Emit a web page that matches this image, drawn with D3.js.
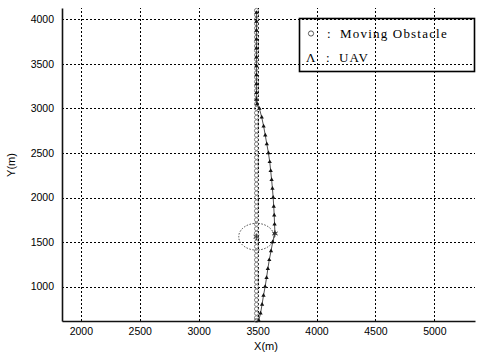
<!DOCTYPE html>
<html>
<head>
<meta charset="utf-8">
<script src="https://cdn.jsdelivr.net/npm/d3@7/dist/d3.min.js"></script>
<style>
  html, body { margin: 0; padding: 0; background: #fff; }
  svg { display: block; }
</style>
</head>
<body>
<svg id="chart" width="480" height="357"></svg>
<script>
// Axis ticks
const xTicks = [2000, 2500, 3000, 3500, 4000, 4500, 5000];
const yTicks = [1000, 1500, 2000, 2500, 3000, 3500, 4000];

// Moving obstacle track (constant X, sampled every 50 m)
const obstacleX = 3490;
const obstacleY = [4100, 4050, 4000, 3950, 3900, 3850, 3800, 3750, 3700, 3650,
  3600, 3550, 3500, 3450, 3400, 3350, 3300, 3250, 3200, 3150,
  3100, 3050, 3000, 2950, 2900, 2850, 2800, 2750, 2700, 2650,
  2600, 2550, 2500, 2450, 2400, 2350, 2300, 2250, 2200, 2150,
  2100, 2050, 2000, 1950, 1900, 1850, 1800, 1750, 1700, 1650,
  1600, 1550, 1500, 1450, 1400, 1350, 1300, 1250, 1200, 1150,
  1100, 1050, 1000, 950, 900, 850, 800, 750, 700, 650, 620];

// UAV track
const uavX = [3490, 3490, 3490, 3490, 3490, 3490, 3490, 3490, 3490, 3490, 3490, 3495,
  3515, 3535, 3551, 3565, 3578, 3592, 3603, 3611, 3619, 3626, 3632, 3637, 3641, 3644, 3647,
  3628, 3614, 3599, 3587, 3576, 3564, 3550, 3538, 3525, 3510];
const uavY = [4075, 3975, 3875, 3775, 3675, 3575, 3475, 3375, 3275, 3175, 3100, 3050,
  3000, 2900, 2800, 2700, 2600, 2500, 2400, 2300, 2200, 2100, 2000, 1900, 1800, 1700, 1600,
  1500, 1400, 1300, 1200, 1100, 1000, 900, 800, 700, 620];

// Safety circle around the obstacle at the moment of closest approach
const zoneCenter = [3490, 1560];
const zoneRadius = 150;
const encounterMarks = [[3490, 1560], [3647, 1596]];

const svg = d3.select("#chart");
const plot = { left: 62, right: 475, top: 8, bottom: 321 };

const x = d3.scaleLinear().domain([1840, 5345]).range([plot.left, plot.right]);
const y = d3.scaleLinear().domain([614, 4127]).range([plot.bottom, plot.top]);

// Dotted grid
const grid = svg.append("g").attr("stroke", "#000").attr("stroke-width", 1)
  .attr("stroke-dasharray", "2,2").attr("shape-rendering", "crispEdges");
grid.selectAll("line.v").data(xTicks).join("line")
  .attr("x1", d => Math.round(x(d)) + 0.5).attr("x2", d => Math.round(x(d)) + 0.5)
  .attr("y1", plot.bottom).attr("y2", plot.top);
grid.selectAll("line.h").data(yTicks).join("line")
  .attr("y1", d => Math.round(y(d)) + 0.5).attr("y2", d => Math.round(y(d)) + 0.5)
  .attr("x1", plot.left).attr("x2", plot.right);

// Axes
const xAxis = svg.append("g").attr("transform", `translate(0,${plot.bottom})`)
  .call(d3.axisBottom(x).tickValues(xTicks).tickSize(0).tickPadding(7).tickFormat(d3.format("d")));
const yAxis = svg.append("g").attr("transform", `translate(${plot.left},0)`)
  .call(d3.axisLeft(y).tickValues(yTicks).tickSize(0).tickPadding(8).tickFormat(d3.format("d")));
[xAxis, yAxis].forEach(a => {
  a.select(".domain").attr("stroke", "#111").attr("stroke-width", 1.6);
  a.selectAll("text").attr("font-family", "'Liberation Sans', Arial, sans-serif")
    .attr("font-size", 10.5).attr("fill", "#000");
});

// Axis titles
svg.append("text").attr("x", 266).attr("y", 350).attr("text-anchor", "middle")
  .attr("font-family", "'Liberation Sans', Arial, sans-serif").attr("font-size", 11)
  .text("X(m)");
svg.append("text").attr("transform", "translate(15,165) rotate(-90)").attr("text-anchor", "middle")
  .attr("font-family", "'Liberation Sans', Arial, sans-serif").attr("font-size", 11)
  .text("Y(m)");

// Safety circle
svg.append("ellipse")
  .attr("cx", x(zoneCenter[0])).attr("cy", y(zoneCenter[1]))
  .attr("rx", x(zoneCenter[0] + zoneRadius) - x(zoneCenter[0]))
  .attr("ry", y(zoneCenter[1]) - y(zoneCenter[1] + zoneRadius))
  .attr("fill", "none").attr("stroke", "#333").attr("stroke-width", 0.9)
  .attr("stroke-dasharray", "1.5,1.5");

// Obstacle track
svg.append("g").selectAll("circle").data(obstacleY).join("circle")
  .attr("cx", x(obstacleX)).attr("cy", d => y(d)).attr("r", 2)
  .attr("fill", "none").attr("stroke", "#666").attr("stroke-width", 0.8);

// UAV track
const uavPts = uavX.map((d, i) => [d, uavY[i]]);
svg.append("path").datum(uavPts)
  .attr("d", d3.line().x(d => x(d[0])).y(d => y(d[1])))
  .attr("fill", "none").attr("stroke", "#222").attr("stroke-width", 0.8);
svg.append("g").selectAll("path").data(uavPts).join("path")
  .attr("transform", d => `translate(${x(d[0])},${y(d[1])})`)
  .attr("d", d3.symbol().type(d3.symbolTriangle).size(8))
  .attr("fill", "#111");

// Encounter markers
svg.append("g").selectAll("path").data(encounterMarks).join("path")
  .attr("transform", d => `translate(${x(d[0])},${y(d[1])})`)
  .attr("d", d3.symbol().type(d3.symbolAsterisk).size(30))
  .attr("fill", "none").attr("stroke", "#333").attr("stroke-width", 0.9);

// Legend
const lg = svg.append("g");
lg.append("rect").attr("x", 299.5).attr("y", 18.5).attr("width", 175).attr("height", 53)
  .attr("fill", "none").attr("stroke", "#000").attr("stroke-width", 1.6);
lg.append("circle").attr("cx", 311).attr("cy", 33.5).attr("r", 2.6)
  .attr("fill", "none").attr("stroke", "#333").attr("stroke-width", 0.8);
const serif = "'Liberation Serif', 'Times New Roman', serif";
lg.append("text").attr("x", 327).attr("y", 38).attr("font-family", serif).attr("font-size", 13)
  .text(":");
lg.append("text").attr("x", 340).attr("y", 38).attr("font-family", serif).attr("font-size", 13)
  .attr("letter-spacing", 1.2).text("Moving Obstacle");
lg.append("text").attr("x", 306).attr("y", 62).attr("font-family", serif).attr("font-size", 13)
  .text("Λ");
lg.append("text").attr("x", 326).attr("y", 62).attr("font-family", serif).attr("font-size", 13)
  .text(":");
lg.append("text").attr("x", 339).attr("y", 62).attr("font-family", serif).attr("font-size", 13)
  .attr("letter-spacing", 1.2).text("UAV");
</script>
</body>
</html>
